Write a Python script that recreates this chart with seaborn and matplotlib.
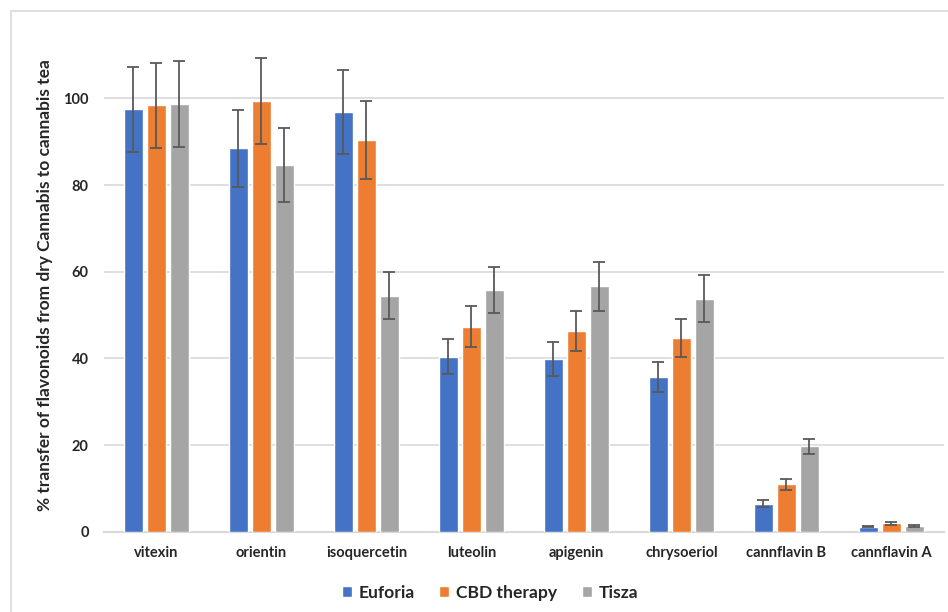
import numpy as np
import pandas as pd
import matplotlib.pyplot as plt
import matplotlib.patches as mpatches
import seaborn as sns

# flavonoids and the three cannabis varieties
flavonoids = ['vitexin', 'orientin', 'isoquercetin', 'luteolin', 'apigenin',
              'chrysoeriol', 'cannflavin B', 'cannflavin A']
varieties = ['Euforia', 'CBD therapy', 'Tisza']

# % transfer
euforia = [97.5, 88.5, 96.8, 40.4, 39.9, 35.7, 6.5, 1.2]
cbd_therapy = [98.4, 99.4, 90.4, 47.3, 46.4, 44.8, 10.9, 1.9]
tisza = [98.7, 84.6, 54.5, 55.7, 56.6, 53.8, 19.7, 1.4]

# error bar half-widths
euforia_err = [9.8, 8.9, 9.7, 4.0, 4.0, 3.5, 0.8, 0.2]
cbd_therapy_err = [9.9, 10.0, 9.1, 4.7, 4.6, 4.4, 1.2, 0.3]
tisza_err = [10.0, 8.6, 5.4, 5.3, 5.6, 5.4, 1.8, 0.2]

colors = ['#4472C4', '#ED7D31', '#A5A5A5']

df = pd.DataFrame({
    'flavonoid': flavonoids * 3,
    'variety': np.repeat(varieties, len(flavonoids)),
    'value': euforia + cbd_therapy + tisza,
})
errors = [euforia_err, cbd_therapy_err, tisza_err]

sns.set_style('white')
plt.rcParams['font.family'] = ['Lato', 'DejaVu Sans']

fig = plt.figure(figsize=(9.48, 6.12), dpi=100)
ax = fig.add_axes([0.1097, 0.1312, 0.886, 0.807])

sns.barplot(data=df, x='flavonoid', y='value', hue='variety',
            order=flavonoids, hue_order=varieties, palette=colors,
            width=0.657, gap=0.174, errorbar=None, saturation=1, ax=ax, zorder=3)

# error bars placed on the bar centres
for container, err in zip(ax.containers, errors):
    xs = [p.get_x() + p.get_width() / 2 for p in container.patches]
    ys = [p.get_height() for p in container.patches]
    ax.errorbar(xs, ys, yerr=err, fmt='none', ecolor='#595959',
                elinewidth=1.3, capsize=4.3, capthick=1.3, zorder=4)

ax.set_xlim(-0.5, len(flavonoids) - 0.5)
ax.set_ylim(0, 114)
ax.set_yticks([0, 20, 40, 60, 80, 100])
ax.yaxis.grid(True, color='#D9D9D9', linewidth=1.2, zorder=0)
ax.set_axisbelow(True)
for s in ['top', 'right', 'left']:
    ax.spines[s].set_visible(False)
ax.spines['bottom'].set_color('#D9D9D9')
ax.spines['bottom'].set_linewidth(1.5)
ax.tick_params(axis='x', length=0, labelsize=10.5, pad=10)
ax.tick_params(axis='y', length=0, labelsize=10.5, pad=11)
for lab in ax.get_xticklabels() + ax.get_yticklabels():
    lab.set_fontweight('bold')
ax.set_xlabel('')
ax.set_ylabel('% transfer of flavonoids from dry Cannabis to cannabis tea',
              fontsize=12.5, fontweight='bold', labelpad=7)

ax.legend(loc='center', bbox_to_anchor=(490 / 948, 1 - 593 / 612),
          bbox_transform=fig.transFigure, ncol=3,
          frameon=False, handlelength=0.57, handleheight=0.57, handletextpad=0.4,
          columnspacing=1.4, prop={'weight': 'bold', 'size': 12.6})

# light chart-area border
fig.patches.append(mpatches.Rectangle((11 / 948, -0.02), 1.0, 1 - 11 / 612 + 0.02,
                                      transform=fig.transFigure, fill=False,
                                      edgecolor='#D9D9D9', linewidth=1.2))

fig.savefig('out.png', dpi=100)
